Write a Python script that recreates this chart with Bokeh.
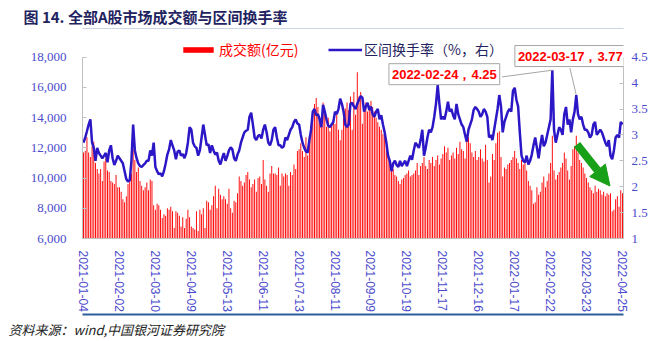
from bokeh.plotting import figure
from bokeh.models import (Range1d, LinearAxis, FixedTicker, NumeralTickFormatter, Label, Title,
                          Legend, LegendItem, Arrow, NormalHead, ColumnDataSource, BoxAnnotation)
from bokeh.embed import file_html
from bokeh.resources import INLINE

# ---------------- data ----------------
tick_idx = [0, 21, 42, 63, 84, 105, 126, 147, 168, 189, 210, 231, 252, 273, 294, 315]
tick_labels = ["2021-01-04", "2021-02-02", "2021-03-10", "2021-04-09", "2021-05-13",
               "2021-06-11", "2021-07-13", "2021-08-11", "2021-09-09", "2021-10-19",
               "2021-11-17", "2021-12-16", "2022-01-17", "2022-02-22", "2022-03-23",
               "2022-04-25"]

# 成交额(亿元), one value per trading day
turnover = [
    11700, 11800, 12700, 11700, 11400, 12100, 12400, 11000, 10600, 10300, 10600, 9800, 11100, 11300, 10500, 10400, 9800, 9700, 9600, 10200, 9400,
    9400, 9100, 8600, 8400, 8800, 9600, 9900, 10300, 11900, 11200, 10400, 10700, 9800, 9500, 9200, 9400, 9700, 9200, 9900, 9800, 8200,
    7900, 8300, 8200, 7900, 7350, 7600, 7500, 8000, 7900, 8100, 7800, 6700, 7800, 7700, 7500, 6800, 7400, 6700, 7300, 7900, 7400,
    6800, 6700, 6600, 7800, 6500, 7900, 7600, 8000, 6700, 8500, 8400, 7900, 8200, 8800, 9500, 8000, 9300, 8900, 8600, 8800, 8600,
    8300, 9300, 8000, 7700, 8500, 8400, 9000, 10100, 9800, 9500, 9700, 10200, 10400, 9900, 9400, 9600, 9900, 9100, 10000, 10100, 9600,
    11200, 9900, 9500, 9100, 10300, 10800, 10300, 10300, 10200, 10700, 9500, 10300, 10100, 10300, 10200, 9500, 10400, 10200, 10900, 10600, 11800,
    11900, 12300, 11800, 11400, 12700, 11500, 12800, 13500, 14300, 14900, 15300, 14700, 13800, 13500, 15000, 14200, 13400, 14000, 13100, 13600, 13900,
    13600, 14200, 13200, 12500, 13200, 14000, 14600, 15000, 14500, 15400, 13200, 15700, 14200, 17000, 15400, 15700, 13600, 14700, 15000, 14400, 14800,
    15100, 14700, 14400, 14000, 13700, 13400, 13200, 12900, 12800, 12100, 11400, 11200, 10800, 10600, 10200, 10100, 9800, 9600, 9900, 10000, 10200,
    10300, 10500, 10100, 10200, 10300, 10500, 11000, 10200, 10800, 11000, 11400, 10800, 10600, 11200, 11000, 11400, 10800, 11200, 11500, 10900, 11300,
    11600, 12100, 11700, 12000, 11200, 11500, 11700, 11300, 12000, 11600, 12400, 11900, 11800, 11300, 12500, 12700, 12300, 11700, 11400, 11800, 11200,
    11400, 11900, 11300, 11100, 12200, 11200, 9700, 10100, 11600, 11200, 12300, 13000, 13100, 11400, 10100, 10700, 10600, 10900, 11000, 11200, 11400,
    11800, 11300, 11000, 10600, 11200, 10900, 11000, 10500, 9800, 9500, 9200, 8300, 8400, 9400, 8900, 9100, 9700, 10100, 9400, 9800, 10300,
    11000, 12800, 10500, 9900, 10200, 10400, 10700, 11000, 11700, 11300, 10500, 9900, 10800, 11900, 12100, 12800, 11700, 11200, 11000, 10700, 10300,
    10000, 9700, 9400, 9200, 9000, 9500, 9100, 9300, 9200, 8900, 9100, 8800, 9000, 8900, 9000, 7800, 7900, 8600, 8800, 8100, 9200, 9000,
]

# 区间换手率(%), one value per trading day
rate = [
    2.85, 2.95, 3.07, 3.2, 3.3, 2.85, 2.75, 2.5, 2.75, 2.65, 2.6, 2.55, 2.6, 2.65, 2.47, 2.7, 2.8, 2.55, 2.42, 2.5, 2.6,
    2.55, 2.5, 2.45, 2.3, 2.15, 2.1, 2.12, 2.5, 3.2, 2.7, 2.55, 2.45, 2.4, 2.38, 2.42, 2.45, 2.5, 2.5, 2.7, 2.6, 2.85,
    2.38, 2.3, 2.24, 2.26, 2.2, 2.3, 2.45, 2.62, 2.72, 2.9, 2.8, 2.7, 2.53, 2.68, 2.7, 2.6, 2.63, 2.55, 2.65, 2.85, 3.15,
    3.1, 2.85, 2.78, 2.75, 2.6, 2.7, 2.95, 3.2, 3.0, 2.8, 2.82, 2.65, 2.8, 2.7, 2.62, 2.66, 2.5, 2.43, 2.55, 2.65, 2.5,
    2.59, 2.7, 2.76, 2.72, 2.55, 2.5, 2.62, 2.7, 2.85, 2.95, 3.05, 3.08, 3.1, 3.35, 3.43, 3.2, 2.95, 2.9, 2.98, 3.0, 2.93,
    3.1, 3.2, 3.05, 2.85, 2.8, 2.9, 3.1, 3.15, 2.95, 2.8, 2.8, 2.75, 2.78, 2.95, 2.9, 3.0, 3.1, 3.15, 3.25, 3.3, 3.22,
    3.2, 3.0, 2.85, 2.75, 2.68, 2.66, 2.9, 3.1, 3.45, 3.5, 3.38, 3.4, 3.3, 3.15, 3.58, 3.45, 3.3, 3.18, 3.15, 3.2, 3.25,
    3.45, 3.4, 3.5, 3.7, 3.6, 3.45, 3.2, 3.15, 3.2, 3.6, 3.62, 3.55, 3.5, 3.6, 3.68, 3.75, 3.72, 3.45, 3.55, 3.62, 3.48,
    3.55, 3.4, 3.35, 3.45, 3.5, 3.3, 3.38, 3.2, 3.05, 2.85, 2.6, 2.5, 2.3, 2.45, 2.5, 2.42, 2.38, 2.5, 2.4, 2.45, 2.5,
    2.4, 2.5, 2.6, 2.52, 2.7, 2.85, 2.8, 2.75, 2.9, 3.1, 2.6, 2.75, 2.95, 3.1, 3.05, 3.15, 3.35, 3.6, 3.96, 3.6, 3.3,
    3.35, 3.3, 3.45, 3.64, 3.45, 3.5, 3.38, 3.3, 3.6, 3.4, 3.3, 3.2, 3.15, 3.0, 2.87, 3.1, 3.2, 3.3, 3.48, 3.54, 3.5,
    3.45, 3.35, 3.4, 3.5, 3.45, 3.35, 2.95, 3.0, 2.9, 3.1, 3.3, 3.5, 3.77, 3.55, 3.05, 3.25, 3.35, 3.45, 3.5, 3.45, 3.85,
    3.91, 3.68, 3.55, 3.05, 2.6, 2.5, 2.47, 2.6, 2.43, 2.5, 2.62, 2.8, 2.95, 2.75, 2.55, 2.8, 3.0, 2.78, 2.85, 3.0, 3.15,
    3.3, 4.25, 3.1, 2.85, 3.0, 3.15, 3.1, 3.0, 3.4, 3.54, 3.2, 3.3, 3.05, 3.3, 3.45, 3.77, 3.4, 3.3, 3.35, 3.2, 3.1,
    3.1, 3.05, 2.95, 3.0, 3.2, 3.25, 3.0, 3.05, 3.1, 3.05, 2.95, 2.85, 2.78, 2.9, 2.6, 2.53, 2.7, 2.95, 3.0, 2.95, 3.25, 3.2,
]

ann_idx = [274, 288]
ann_text = ["2022-02-24，4.25", "2022-03-17，3.77"]

title_text = "图 14. 全部A股市场成交额与区间换手率"
source_text = "资料来源：wind,中国银河证券研究院"

# ---------------- styles ----------------
RED = "#ff0000"
BLUE = "#2b17c6"
TICK_COLOR = "#4b4bcc"
NAVY = "#1f2460"
GREEN = "#18a018"
RULE = "#2e5c99"
CJK = "Noto Sans CJK SC"

# frame: x 82..623, y 28..240 (data span 18000..6000 occupies y 57..240)
TOP_PAD = 29
px_per_unit = 183 / 12000.0
idx = list(range(len(turnover)))
src = ColumnDataSource(dict(x=idx, t=turnover, r=rate))

p = figure(width=653, height=341, x_range=Range1d(-0.6, len(turnover) - 0.4),
           y_range=Range1d(6000, 18000 + TOP_PAD / px_per_unit),
           output_backend="svg", toolbar_location=None,
           min_border_left=82, min_border_right=30, min_border_top=28, min_border_bottom=101)
p.outline_line_color = None
p.xgrid.visible = False
p.ygrid.visible = False

# title in the top border
p.title.text = title_text
p.title.align = "left"
p.title.offset = -59
p.title.standoff = 3
p.title.text_font = CJK
p.title.text_font_size = "15px"
p.title.text_font_style = "bold"
p.title.text_color = NAVY

p.extra_y_ranges = {"right": Range1d(1, 4.5 + TOP_PAD * 3.5 / 183)}
raxis = LinearAxis(y_range_name="right")
p.add_layout(raxis, "right")

laxis = p.yaxis[0]
for ax in (laxis, raxis):
    ax.axis_line_color = "#c0c0c0"
    ax.major_tick_line_color = "#c0c0c0"
    ax.major_tick_in = 4
    ax.major_tick_out = 0
    ax.minor_tick_line_color = None
    ax.major_label_text_color = TICK_COLOR
    ax.major_label_text_font = "Liberation Serif"
    ax.major_label_text_font_size = "13px"
laxis.bounds = (6000, 18000)
laxis.ticker = FixedTicker(ticks=[6000, 8000, 10000, 12000, 14000, 16000, 18000])
laxis.formatter = NumeralTickFormatter(format="0,0")
laxis.major_label_standoff = 16
raxis.bounds = (1, 4.5)
raxis.ticker = FixedTicker(ticks=[1, 1.5, 2, 2.5, 3, 3.5, 4, 4.5])
raxis.formatter = NumeralTickFormatter(format="0.[0]")
raxis.major_label_standoff = 8

xax = p.xaxis[0]
xax.ticker = FixedTicker(ticks=tick_idx)
xax.major_label_overrides = {i: s for i, s in zip(tick_idx, tick_labels)}
xax.major_label_orientation = "vertical"
xax.axis_line_color = "#c0c0c0"
xax.major_tick_line_color = None
xax.minor_tick_line_color = None
xax.major_label_text_color = TICK_COLOR
xax.major_label_text_font = "Liberation Sans"
xax.major_label_text_font_size = "12px"
xax.major_label_standoff = 6

# bottom rule: a bare axis line below the date labels
rule_axis = LinearAxis(ticker=FixedTicker(ticks=[]), axis_line_color=RULE, axis_line_width=2,
                       major_tick_line_color=None, minor_tick_line_color=None,
                       major_label_text_font_size="0px")
p.add_layout(rule_axis, "below")

# source note
p.add_layout(Title(text=source_text, align="left", offset=-74, standoff=6,
                   text_font=CJK, text_font_size="13px", text_font_style="italic",
                   text_color="#222222"), "below")

# top rule under the title (inside the frame's top strip)
p.add_layout(BoxAnnotation(left=-67, right=558, top=212, bottom=210,
                           left_units="screen", right_units="screen",
                           top_units="screen", bottom_units="screen",
                           fill_color=RULE, fill_alpha=1, line_color=None))

bars = p.vbar(x="x", top="t", bottom=6000, width=0.55, source=src,
              fill_color=RED, line_color=None)
line = p.line("x", "r", source=src, y_range_name="right", line_color=BLUE, line_width=2.5)

# legends (locations in screen px from frame bottom-left)
leg1 = Legend(items=[LegendItem(label="成交额(亿元)", renderers=[bars])],
              location=(97, 179), orientation="horizontal", glyph_width=38, glyph_height=7,
              label_text_color=RED, label_text_font=CJK, label_text_font_size="14px",
              label_standoff=2, padding=0, margin=0, border_line_color=None,
              background_fill_alpha=0)
leg2 = Legend(items=[LegendItem(label="区间换手率（%，右）", renderers=[line])],
              location=(246, 179), orientation="horizontal", glyph_width=34, glyph_height=7,
              label_text_color=NAVY, label_text_font=CJK, label_text_font_size="14px",
              label_standoff=2, padding=0, margin=0, border_line_color=None,
              background_fill_alpha=0)
p.add_layout(leg1)
p.add_layout(leg2)

# annotation boxes with leader lines
box_dx = [-108, -6]
box_dy = [-4, 39]
lead_x = [-29.4, -3.7]
lead_y = [-0.13, 0.52]
p.segment(x0=ann_idx, y0=[rate[i] for i in ann_idx],
          x1=[i + d for i, d in zip(ann_idx, lead_x)],
          y1=[rate[i] + d for i, d in zip(ann_idx, lead_y)],
          y_range_name="right", line_color="#a6a6a6", line_width=1)
for i, t, dx, dy in zip(ann_idx, ann_text, box_dx, box_dy):
    p.add_layout(Label(x=i, y=rate[i], y_range_name="right", x_offset=dx, y_offset=dy,
                       text=t, text_align="center", text_baseline="middle",
                       text_color=RED, text_font="Liberation Sans",
                       text_font_style="bold", text_font_size="13px",
                       background_fill_color="white", border_line_color="#a6a6a6",
                       padding=3))

# green arrow
p.add_layout(Arrow(x_start=288.4, y_start=12230, x_end=307.7, y_end=9475,
                   line_color=GREEN, line_width=8,
                   end=NormalHead(size=20, fill_color=GREEN, line_color=GREEN)))

open("out.html", "w").write(file_html(p, INLINE))
